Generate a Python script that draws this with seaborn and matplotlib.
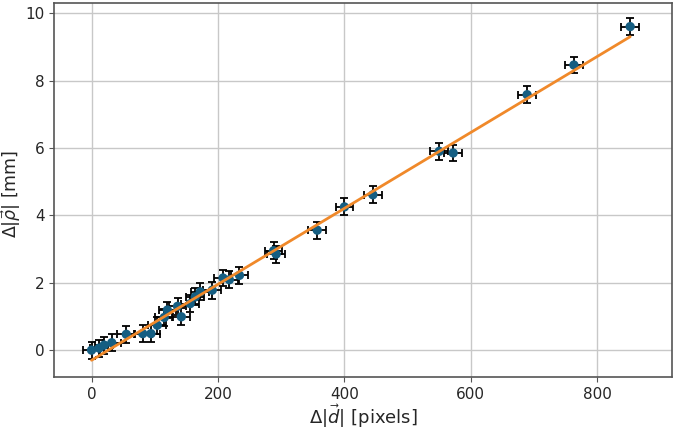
import numpy as np
import pandas as pd
import seaborn as sns
import matplotlib
matplotlib.use("Agg")
import matplotlib.pyplot as plt

# measured displacements
d_pixels = [0, 12, 20, 32, 55, 81, 94, 104, 115, 120, 136, 142, 156, 164, 172,
            191, 208, 218, 234, 288, 292, 357, 400, 445, 550, 572, 689, 763, 852]
p_mm = [0.0, 0.06, 0.15, 0.22, 0.47, 0.49, 0.49, 0.74, 0.97, 1.19, 1.30, 0.99,
        1.38, 1.58, 1.73, 1.78, 2.14, 2.09, 2.22, 2.95, 2.85, 3.56, 4.25, 4.61,
        5.90, 5.85, 7.58, 8.46, 9.60]
xerr = 14
yerr = 0.25

# linear fit endpoints
fit_x = [0, 852]
fit_y = [-0.30, 9.30]

df = pd.DataFrame({"d": d_pixels, "p": p_mm})
fit = pd.DataFrame({"d": fit_x, "p": fit_y})

sns.set_style("ticks")
plt.rcParams["font.family"] = ["DejaVu Sans"]

fig, ax = plt.subplots(figsize=(6.78, 4.30), dpi=100)
ax.errorbar(df["d"], df["p"], xerr=xerr, yerr=yerr, fmt="none",
            ecolor="black", elinewidth=1.3, capsize=3, capthick=1.3, zorder=2)
sns.scatterplot(x="d", y="p", data=df, color="#155e82", s=45,
                edgecolor="none", zorder=3, ax=ax)
sns.lineplot(x="d", y="p", data=fit, color="#f0892a", linewidth=2, zorder=4, ax=ax)

ax.set_xlim(-59, 918)
ax.set_ylim(-0.8, 10.3)
ax.set_xticks([0, 200, 400, 600, 800])
ax.set_yticks([0, 2, 4, 6, 8, 10])
ax.grid(True, color="#c8c8c8", linewidth=1)
ax.set_axisbelow(True)
for s in ax.spines.values():
    s.set_color("#555555")
    s.set_linewidth(1.2)
ax.tick_params(labelsize=11, color="#555555")
ax.set_xlabel(r"$\Delta|\vec{d}|$ [pixels]", fontsize=13, labelpad=0)
ax.set_ylabel(r"$\Delta|\vec{\rho}|$ [mm]", fontsize=12.5)
ax.yaxis.set_label_coords(-0.05, 0.49)

fig.subplots_adjust(left=0.08, right=0.991, top=0.993, bottom=0.123)
fig.savefig("out.png", dpi=100)
